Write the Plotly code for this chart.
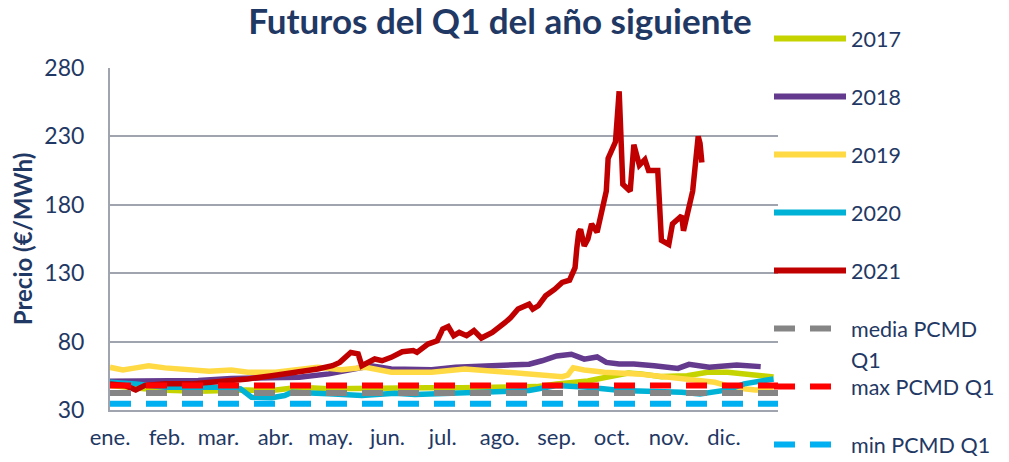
import plotly.graph_objects as go

# ---------------- data ----------------
YEAR = "2021"  # dummy year used to place all series on a common Jan–Dec axis

month_ticks = ["01-01", "02-01", "03-01", "04-01", "05-01", "06-01",
               "07-01", "08-01", "09-01", "10-01", "11-01", "12-01"]
month_labels = ["ene.", "feb.", "mar.", "abr.", "may.", "jun.",
                "jul.", "ago.", "sep.", "oct.", "nov.", "dic."]

y_ticks = [30, 80, 130, 180, 230, 280]

d2017 = ["01-01", "01-27", "02-18", "03-16", "03-30", "04-14", "04-30", "05-27",
         "06-23", "07-11", "07-30", "08-21", "09-01", "09-18", "09-28", "10-10",
         "10-17", "10-28", "11-11", "11-22", "12-03", "12-14", "12-28"]
v2017 = [47.9, 44.7, 43.7, 44.7, 44.2, 46.6, 45.5, 46.2,
         46.2, 46.2, 46.6, 47.1, 49.1, 51.2, 53.9, 57.0,
         56.4, 54.4, 55.1, 57.6, 57.6, 56.4, 54.2]

d2018 = ["01-01", "02-18", "03-08", "04-06", "04-14", "04-30", "05-09", "05-14",
         "05-23", "06-03", "06-25", "07-08", "07-24", "08-17", "08-24", "09-01",
         "09-09", "09-16", "09-23", "09-28", "10-05", "10-13", "10-24", "11-06",
         "11-12", "11-23", "12-08", "12-21"]
v2018 = [51.0, 51.5, 53.0, 54.0, 54.0, 56.4, 58.8, 60.0,
         62.4, 60.0, 59.5, 61.2, 62.4, 63.5, 66.0, 69.5,
         70.8, 67.2, 68.8, 64.8, 63.7, 63.7, 62.4, 60.4,
         63.4, 61.2, 62.8, 61.7]

d2019 = ["01-01", "01-08", "01-15", "01-22", "01-31", "02-11", "02-24", "03-08",
         "03-17", "04-01", "04-14", "04-24", "05-07", "05-20", "06-03", "06-25",
         "07-13", "07-24", "08-04", "08-22", "09-04", "09-07", "09-10", "09-16",
         "09-27", "10-15", "11-02", "11-15", "11-26", "12-07", "12-18", "12-28"]
v2019 = [61.2, 59.3, 60.8, 62.4, 60.8, 59.3, 58.3, 59.3,
         57.6, 57.6, 60.0, 61.2, 59.5, 61.2, 57.6, 57.6,
         60.0, 58.8, 56.8, 55.1, 54.4, 55.5, 60.8, 59.3,
         57.6, 56.4, 53.9, 52.7, 50.3, 46.2, 44.7, 44.5]

d2020 = ["01-01", "01-15", "01-31", "02-18", "03-08", "03-13", "03-19", "03-30",
         "04-06", "04-10", "04-21", "04-30", "05-18", "06-05", "06-16", "07-01",
         "07-11", "07-30", "08-17", "09-01", "09-18", "10-06", "10-24", "11-08",
         "11-18", "12-03", "12-12", "12-21", "12-28"]
v2020 = [50.3, 49.1, 46.6, 46.6, 46.6, 45.4, 39.3, 38.9,
         40.6, 43.0, 41.8, 41.8, 40.6, 42.3, 41.3, 41.8,
         43.0, 43.7, 44.2, 47.9, 46.6, 44.2, 43.7, 43.0,
         41.8, 44.7, 49.1, 51.5, 52.7]

d2021 = ["01-01", "01-09", "01-15", "01-20", "01-31", "02-14", "02-25", "03-08",
         "03-17", "03-30", "04-06", "04-17", "04-24", "05-02", "05-06", "05-12",
         "05-16", "05-18", "05-25", "05-29", "06-03", "06-09", "06-15", "06-17",
         "06-23", "06-28", "07-01", "07-04", "07-07", "07-10", "07-14", "07-18",
         "07-22", "07-28", "08-01", "08-04", "08-07", "08-11", "08-17", "08-19",
         "08-22", "08-26", "08-31", "09-04", "09-08", "09-11", "09-12", "09-13",
         "09-14", "09-16", "09-18", "09-20", "09-23", "09-25", "09-28", "09-29",
         "10-03", "10-05", "10-07", "10-11", "10-13", "10-16", "10-19", "10-21",
         "10-26", "10-28", "11-01", "11-03", "11-08", "11-09", "11-14", "11-17",
         "11-18", "11-19"]
v2021 = [49.1, 47.9, 44.7, 48.0, 49.1, 49.1, 50.3, 51.5,
         52.7, 55.1, 56.4, 58.8, 60.0, 62.4, 64.8, 72.0,
         71.0, 62.4, 67.3, 66.0, 68.5, 72.6, 73.4, 72.1,
         78.2, 80.6, 89.2, 91.0, 84.3, 86.7, 84.3, 88.0,
         82.6, 86.7, 90.4, 94.0, 97.6, 103.8, 107.4, 103.8,
         106.2, 113.5, 118.3, 123.2, 124.9, 134.0, 148.7, 160.0,
         162.0, 150.0, 155.0, 166.0, 160.0, 173.0, 190.0, 214.0,
         226.0, 263.0, 195.0, 190.0, 224.0, 209.0, 213.0, 205.0,
         205.0, 154.0, 151.0, 166.0, 172.0, 161.0, 190.0, 230.0,
         225.0, 211.0]

pcmd_dates = ["01-01", "12-31"]
media_pcmd = [42.4, 42.4]
max_pcmd = [47.9, 47.9]
min_pcmd = [34.5, 34.5]

series_names = ["2017", "2018", "2019", "2020", "2021",
                "media PCMD Q1", "max PCMD Q1", "min PCMD Q1"]

# ---------------- styling ----------------
NAVY = "#1F3864"
FONT = "Lato"
GRID = "#A0A4AE"
colors = ["#C5D300", "#643A8E", "#FFDA45", "#00B2D6", "#C00000",
          "#858585", "#FF0000", "#00B0F0"]
dashes = ["solid"] * 5 + ["21px,15px"] * 3


def dts(lst):
    return [f"{YEAR}-{d}" for d in lst]


xs = [d2017, d2018, d2019, d2020, d2021, pcmd_dates, pcmd_dates, pcmd_dates]
ys = [v2017, v2018, v2019, v2020, v2021, media_pcmd, max_pcmd, min_pcmd]

fig = go.Figure()
for name, x, y, c, dsh in zip(series_names, xs, ys, colors, dashes):
    fig.add_trace(go.Scatter(
        x=dts(x), y=y, name=name, mode="lines",
        line=dict(color=c, width=5.5 if dsh == "solid" else 6, dash=dsh),
        showlegend=False, hoverinfo="skip"))

# ---------------- custom legend (long line samples like the original) ----------------
L_PX, T_PX, R_PX, B_PX = 110, 68, 778, 410
W, H = 1009, 462


def px_to_paper_x(px):
    return (px - L_PX) / (R_PX - L_PX)


def px_to_paper_y(py):
    return (B_PX - py) / (B_PX - T_PX)


legend_y0 = 38.5
legend_step = 58.0
LEG_FONT = dict(family=FONT, size=21.5, color=NAVY)
shapes = []
annotations = []
for i, (name, c, dsh) in enumerate(zip(series_names, colors, dashes)):
    yy = px_to_paper_y(legend_y0 + i * legend_step)
    x_end = 846 if dsh == "solid" else 832
    shapes.append(dict(type="line", xref="paper", yref="paper",
                       x0=px_to_paper_x(774), x1=px_to_paper_x(x_end), y0=yy, y1=yy,
                       line=dict(color=c, width=6, dash=dsh)))
    if name == "media PCMD Q1":
        parts = [("media PCMD", 0), ("Q1", 31)]
    else:
        parts = [(name, 0)]
    for txt, dy in parts:
        annotations.append(dict(text=txt, xref="paper", yref="paper",
                                x=px_to_paper_x(850),
                                y=px_to_paper_y(legend_y0 + i * legend_step + dy),
                                xanchor="left", yanchor="middle", borderpad=0,
                                showarrow=False, font=LEG_FONT))

fig.update_layout(
    width=W, height=H,
    margin=dict(l=L_PX, r=W - R_PX, t=T_PX, b=H - B_PX, autoexpand=False),
    paper_bgcolor="white", plot_bgcolor="white",
    font=dict(family=FONT, color=NAVY, size=22),
    title=dict(text="<b>Futuros del Q1 del año siguiente</b>",
               x=500 / W, xref="container", xanchor="center",
               y=1 - 22 / H, yref="container", yanchor="middle",
               automargin=False,
               font=dict(family=FONT, size=35, color=NAVY)),
    shapes=shapes, annotations=annotations,
    showlegend=False, hovermode=False,
)

fig.update_xaxes(
    type="date", automargin=False,
    range=[f"{YEAR}-01-01", f"{YEAR}-12-30 10:00"],
    tickvals=dts(month_ticks), ticktext=month_labels,
    showgrid=False, zeroline=False,
    showline=True, linecolor=GRID, linewidth=2,
    ticks="", ticklabelstandoff=7,
    tickfont=dict(family=FONT, size=22, color=NAVY),
)
fig.update_yaxes(
    range=[30, 280], tickvals=y_ticks, automargin=False,
    showgrid=True, gridcolor=GRID, gridwidth=2,
    zeroline=False, showline=True, linecolor=GRID, linewidth=2,
    ticks="", ticklabelstandoff=19,
    tickfont=dict(family=FONT, size=23, color=NAVY),
    title=dict(text="<b>Precio (€/MWh)</b>", standoff=5,
               font=dict(family=FONT, size=24, color=NAVY)),
)

fig.write_html("out.html", config={"displayModeBar": False, "staticPlot": True},
               post_script="document.body.style.margin='0';")
